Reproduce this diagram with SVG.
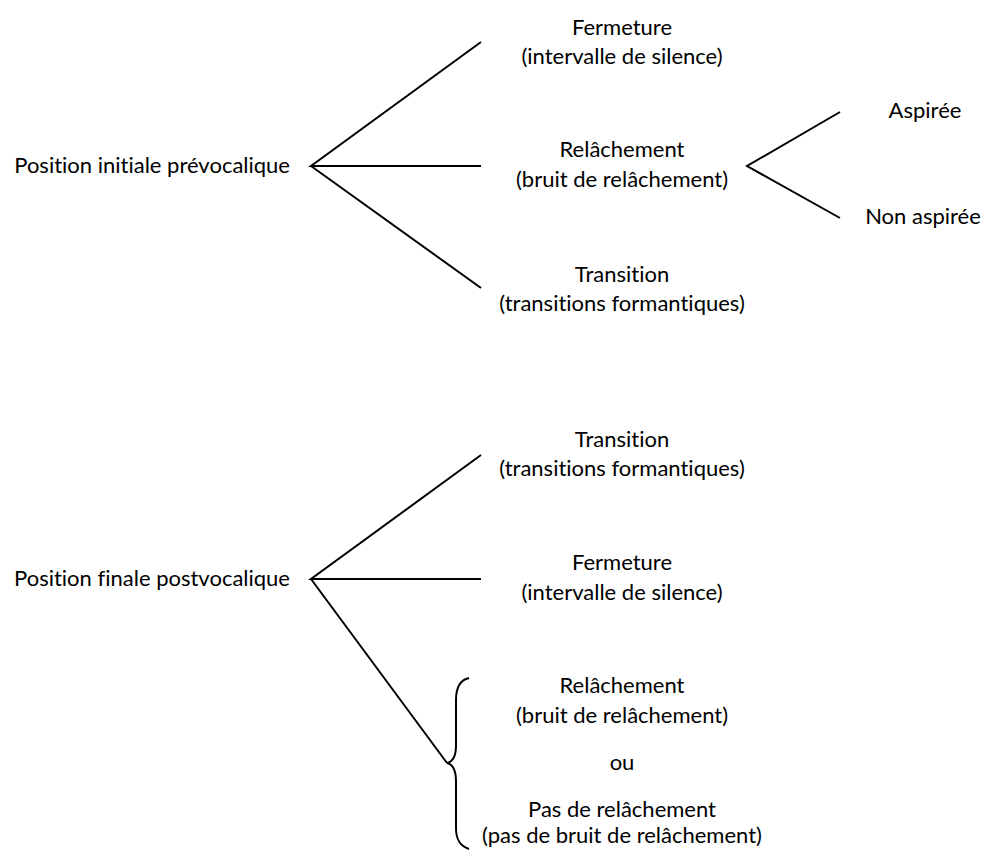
<svg xmlns="http://www.w3.org/2000/svg" width="984" height="850" viewBox="0 0 984 850">
<style>
text{font-family:Lato,"Open Sans",sans-serif;font-size:22px;fill:#000;font-variant-ligatures:no-common-ligatures}
.c{text-anchor:middle}
.e{text-anchor:end}
.ln{stroke:#000;stroke-width:2;fill:none;stroke-linecap:butt;stroke-linejoin:miter}
</style>
<rect width="984" height="850" fill="#fff"/>
<g id="connectors">
<path class="ln" d="M481,42 L311,166 L481,166 M311,166 L481,288"/>
<path class="ln" d="M840,112 L747,166 L840,218"/>
<path class="ln" d="M481,455 L311,579 L481,579 M311,579 L447,763"/>
<path class="ln" stroke-width="1.6" d="M469,678 C460,680 456,688 456,700 L456,745 C456,757 452,762 447,763 C452,764 456,770 456,782 L456,828 C456,840 460,846 469,849"/>
</g>
<g id="n-initiale"><text class="e" x="290" y="173">Position initiale prévocalique</text></g>
<g id="n-fermeture1"><text class="c" x="622" y="35">Fermeture</text><text class="c" x="622" y="64">(intervalle de silence)</text></g>
<g id="n-relachement1"><text class="c" x="622" y="157">Relâchement</text><text class="c" x="622" y="187">(bruit de relâchement)</text></g>
<g id="n-transition1"><text class="c" x="622" y="282">Transition</text><text class="c" x="622" y="311">(transitions formantiques)</text></g>
<g id="n-aspiree"><text class="c" x="925" y="118">Aspirée</text></g>
<g id="n-nonaspiree"><text class="c" x="923" y="224">Non aspirée</text></g>
<g id="n-finale"><text class="e" x="290" y="586">Position finale postvocalique</text></g>
<g id="n-transition2"><text class="c" x="622" y="447">Transition</text><text class="c" x="622" y="476">(transitions formantiques)</text></g>
<g id="n-fermeture2"><text class="c" x="622" y="570">Fermeture</text><text class="c" x="622" y="600">(intervalle de silence)</text></g>
<g id="n-relachement2"><text class="c" x="622" y="693">Relâchement</text><text class="c" x="622" y="723">(bruit de relâchement)</text></g>
<g id="n-ou"><text class="c" x="622" y="770">ou</text></g>
<g id="n-pasrelachement"><text class="c" x="622" y="817">Pas de relâchement</text><text class="c" x="622" y="843">(pas de bruit de relâchement)</text></g>
</svg>
